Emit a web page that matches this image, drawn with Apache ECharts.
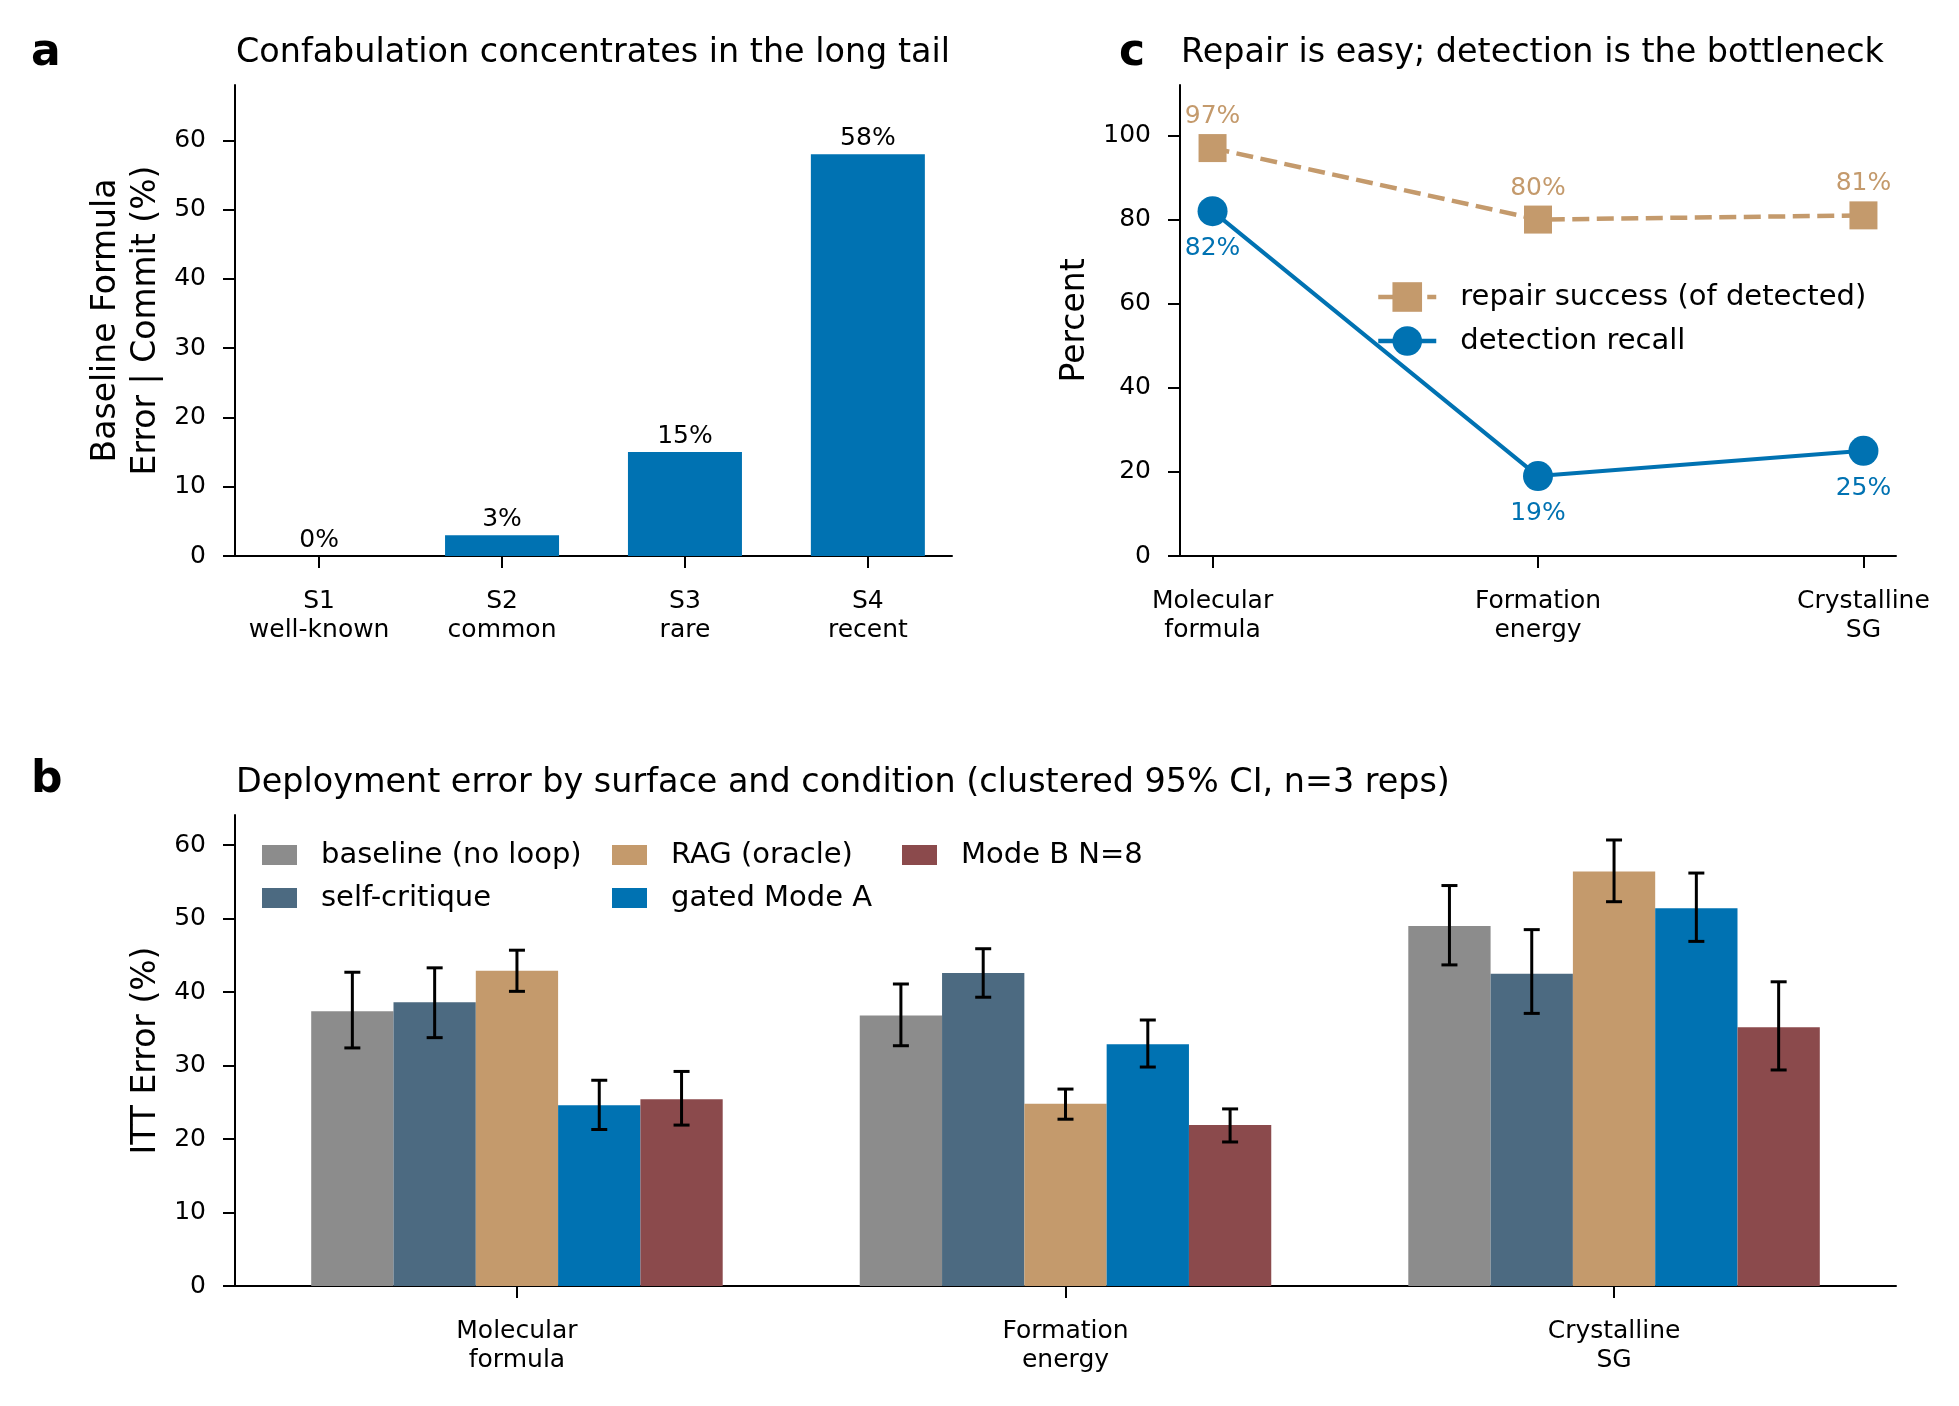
<!DOCTYPE html>
<html>
<head>
<meta charset="utf-8">
<script src="https://cdn.jsdelivr.net/npm/echarts@6/dist/echarts.min.js"></script>
<style>
  html, body { margin: 0; padding: 0; background: #fff; }
  #main { width: 1959px; height: 1406px; }
</style>
</head>
<body>
<div id="main"></div>
<script>
// ---- panel a: baseline error by tier
const tierNames = ['S1\nwell-known', 'S2\ncommon', 'S3\nrare', 'S4\nrecent'];
const tierError = [0, 3, 15, 58];

// ---- panel c: repair vs detection
const surfaceNames = ['Molecular\nformula', 'Formation\nenergy', 'Crystalline\nSG'];
const repairSuccess = [97, 80, 81];
const detectionRecall = [82, 19, 25];

// ---- panel b: deployment error per condition (mean, CI low, CI high)
const conditionNames = ['baseline (no loop)', 'self-critique', 'RAG (oracle)', 'gated Mode A', 'Mode B N=8'];
const conditionColors = ['#8c8c8c', '#4c6a81', '#c49a6c', '#0072b2', '#8b4a4c'];
const baselineErr = [37.4, 36.8, 49.0];
const baselineLo  = [32.4, 32.7, 43.7];
const baselineHi  = [42.7, 41.1, 54.5];
const critiqueErr = [38.6, 42.6, 42.5];
const critiqueLo  = [33.8, 39.3, 37.1];
const critiqueHi  = [43.3, 45.9, 48.5];
const ragErr = [42.9, 24.8, 56.4];
const ragLo  = [40.1, 22.7, 52.3];
const ragHi  = [45.7, 26.8, 60.7];
const gatedErr = [24.6, 32.9, 51.4];
const gatedLo  = [21.3, 29.8, 46.9];
const gatedHi  = [28.0, 36.2, 56.2];
const modeBErr = [25.4, 21.9, 35.2];
const modeBLo  = [21.9, 19.6, 29.4];
const modeBHi  = [29.2, 24.1, 41.4];

const errMeans = [baselineErr, critiqueErr, ragErr, gatedErr, modeBErr];
const errLows  = [baselineLo, critiqueLo, ragLo, gatedLo, modeBLo];
const errHighs = [baselineHi, critiqueHi, ragHi, gatedHi, modeBHi];

const FONT = 'DejaVu Sans';
const BAR_W = 82.3;
const TAN = '#c49a6c';
const BLUE = '#0072b2';

function axisX(gridIndex, min, max, ticks, names) {
  return {
    type: 'value', gridIndex: gridIndex, min: min, max: max,
    splitLine: { show: false },
    axisLine: { show: true, onZero: false, lineStyle: { color: '#000', width: 2 } },
    axisTick: { show: true, length: 12, lineStyle: { color: '#000', width: 2 }, customValues: ticks },
    axisLabel: {
      customValues: ticks, formatter: function (v) { return names[Math.round(v)]; },
      fontSize: 25, lineHeight: 29, margin: 31, color: '#000', fontFamily: FONT
    }
  };
}
function axisY(gridIndex, max, ticks, name, nameGap, nameLH) {
  return {
    type: 'value', gridIndex: gridIndex, min: 0, max: max,
    splitLine: { show: false },
    axisLine: { show: true, onZero: false, lineStyle: { color: '#000', width: 2 } },
    axisTick: { show: true, length: 12, lineStyle: { color: '#000', width: 2 }, customValues: ticks },
    axisLabel: { customValues: ticks, fontSize: 25, margin: 29, color: '#000', fontFamily: FONT },
    name: name, nameLocation: 'middle', nameRotate: 90, nameGap: nameGap,
    nameTextStyle: { fontSize: 33, lineHeight: nameLH, color: '#000', fontFamily: FONT }
  };
}

const series = [];

// panel a bars
series.push({
  type: 'bar', xAxisIndex: 0, yAxisIndex: 0, barWidth: 114,
  data: tierError.map(function (v, i) { return [i, v]; }),
  itemStyle: { color: BLUE },
  label: {
    show: true, position: 'top', distance: 3, fontSize: 25, color: '#000', fontFamily: FONT,
    formatter: function (p) { return p.value[1] + '%'; }
  }
});

// panel c lines
series.push({
  name: 'repair success (of detected)', type: 'line', xAxisIndex: 1, yAxisIndex: 1,
  data: repairSuccess.map(function (v, i) { return [i, v]; }),
  symbol: 'rect', symbolSize: 28,
  lineStyle: { color: TAN, width: 4.5, type: [17, 7.5] },
  itemStyle: { color: TAN },
  label: {
    show: true, position: 'top', distance: 5, fontSize: 25, color: TAN, fontFamily: FONT,
    formatter: function (p) { return p.value[1] + '%'; }
  }
});
series.push({
  name: 'detection recall', type: 'line', xAxisIndex: 1, yAxisIndex: 1,
  data: detectionRecall.map(function (v, i) { return [i, v]; }),
  symbol: 'circle', symbolSize: 30,
  lineStyle: { color: BLUE, width: 4 },
  itemStyle: { color: BLUE },
  label: {
    show: true, position: 'bottom', distance: 10, fontSize: 25, color: BLUE, fontFamily: FONT,
    formatter: function (p) { return p.value[1] + '%'; }
  }
});

// panel b grouped bars + CI whiskers
conditionNames.forEach(function (name, k) {
  series.push({
    name: name, type: 'bar', xAxisIndex: 2, yAxisIndex: 2,
    barWidth: BAR_W, barGap: '0%',
    data: errMeans[k].map(function (v, i) { return [i, v]; }),
    itemStyle: { color: conditionColors[k] }
  });
});
conditionNames.forEach(function (name, k) {
  series.push({
    type: 'custom', xAxisIndex: 2, yAxisIndex: 2, z: 10,
    data: errLows[k].map(function (lo, i) { return [i, lo, errHighs[k][i]]; }),
    encode: { x: 0, y: [1, 2] },
    renderItem: function (params, api) {
      const off = (k - 2) * BAR_W;
      const top = api.coord([api.value(0), api.value(2)]);
      const bot = api.coord([api.value(0), api.value(1)]);
      const x = top[0] + off;
      const st = { stroke: '#000', lineWidth: 3 };
      return {
        type: 'group', children: [
          { type: 'line', shape: { x1: x, y1: top[1], x2: x, y2: bot[1] }, style: st },
          { type: 'line', shape: { x1: x - 8, y1: top[1], x2: x + 8, y2: top[1] }, style: st },
          { type: 'line', shape: { x1: x - 8, y1: bot[1], x2: x + 8, y2: bot[1] }, style: st }
        ]
      };
    }
  });
});

function barLegend(left, names) {
  return {
    left: left, top: 835, orient: 'vertical', selectedMode: false,
    itemWidth: 35, itemHeight: 20, itemGap: 13, icon: 'rect',
    data: names,
    textStyle: { fontSize: 29, lineHeight: 30, color: '#000', fontFamily: FONT, padding: [0, 0, 0, 19] }
  };
}

function titleAt(text, left, top, size, bold) {
  return {
    text: text, left: left, top: top, padding: 0,
    textStyle: { fontSize: size, fontWeight: bold ? 'bold' : 'normal', lineHeight: Math.round(size) + 6, color: '#000', fontFamily: FONT }
  };
}

const option = {
  animation: false,
  backgroundColor: '#fff',
  textStyle: { fontFamily: FONT },
  title: [
    titleAt('a', 31, 29, 44, true),
    titleAt('b', 31, 756, 44, true),
    titleAt('c', 1119, 29, 44, true),
    titleAt('Confabulation concentrates in the long tail', 236, 33.5, 33.4, false),
    titleAt('Repair is easy; detection is the bottleneck', 1181, 33.5, 33.4, false),
    titleAt('Deployment error by surface and condition (clustered 95% CI, n=3 reps)', 236, 763.5, 33.4, false)
  ],
  grid: [
    { left: 235, top: 85, width: 717, height: 471, outerBoundsMode: 'none' },
    { left: 1180, top: 85, width: 716, height: 471, outerBoundsMode: 'none' },
    { left: 235, top: 815, width: 1661, height: 471, outerBoundsMode: 'none' }
  ],
  xAxis: [
    axisX(0, -0.46, 3.46, [0, 1, 2, 3], tierNames),
    axisX(1, -0.1, 2.1, [0, 1, 2], surfaceNames),
    axisX(2, -0.514, 2.514, [0, 1, 2], surfaceNames)
  ],
  yAxis: [
    axisY(0, 68, [0, 10, 20, 30, 40, 50, 60], 'Baseline Formula\nError | Commit (%)', 69, 40),
    axisY(1, 112, [0, 20, 40, 60, 80, 100], 'Percent', 88, 33),
    axisY(2, 64.1, [0, 10, 20, 30, 40, 50, 60], 'ITT Error (%)', 71, 33)
  ],
  legend: [
    {
      left: 1371, top: 277, orient: 'vertical', selectedMode: false,
      itemWidth: 58, itemHeight: 37, itemGap: 14,
      lineStyle: { width: 4.5 },
      data: ['repair success (of detected)', 'detection recall'],
      textStyle: { fontSize: 29, lineHeight: 30, color: '#000', fontFamily: FONT, padding: [0, 0, 0, 19] }
    },
    barLegend(257, ['baseline (no loop)', 'self-critique']),
    barLegend(607, ['RAG (oracle)', 'gated Mode A']),
    barLegend(897, ['Mode B N=8'])
  ],
  series: series
};

const chart = echarts.init(document.getElementById('main'), null, { renderer: 'canvas' });
chart.setOption(option);
</script>
</body>
</html>
